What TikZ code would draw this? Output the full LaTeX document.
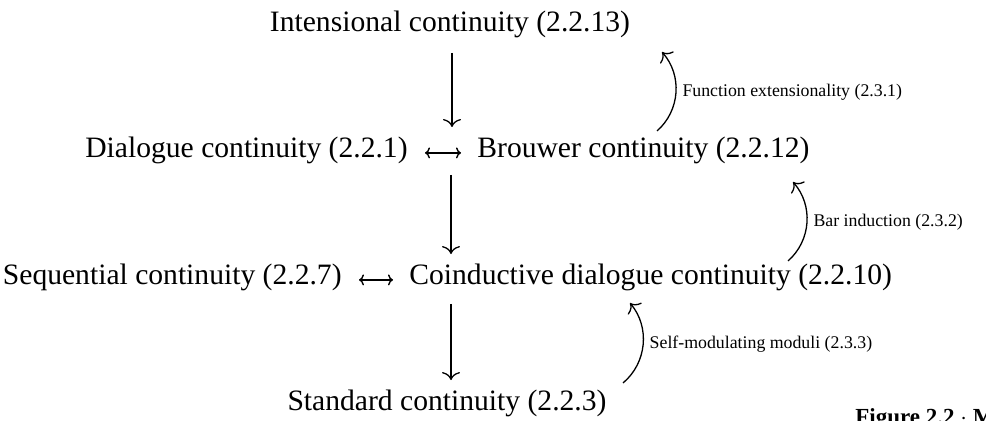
\documentclass[tikz,border=0pt]{standalone}
\usepackage{fontspec}
\setmainfont{Liberation Serif}
\usetikzlibrary{arrows.meta}
\tikzset{
	main/.style={font=\fontsize{14.8}{17}\selectfont, inner sep=0pt},
	lbl/.style={font=\fontsize{8.9}{10}\selectfont, inner sep=3pt},
	impl/.style={-{Computer Modern Rightarrow[length=4pt, width=9pt]}, line width=.65pt},
	equiv/.style={{Computer Modern Rightarrow[length=2.5pt, width=5.5pt]}-{Computer Modern Rightarrow[length=2.5pt, width=5.5pt]}, line width=.7pt},
}
\begin{document}
\begin{tikzpicture}[x=.5pt, y=-.5pt]
		\useasboundingbox (0,0) rectangle (986,421);
		\clip (0,0) rectangle (986,421);
		% the four rows
		\node [main, anchor=base]      (intens)     at (450,32)  {Intensional continuity (2.2.13)};
		\node [main, anchor=base east] (dialogue)   at (408,158) {Dialogue continuity (2.2.1)};
		\node [main, anchor=base west] (brouwer)    at (477,158) {Brouwer continuity (2.2.12)};
		\node [main, anchor=base east] (sequential) at (342,285) {Sequential continuity (2.2.7)};
		\node [main, anchor=base west] (coind)      at (409,285) {Coinductive dialogue continuity (2.2.10)};
		\node [main, anchor=base]      (standard)   at (447,411) {Standard continuity (2.2.3)};
		% ends of the arrows that sit in the gaps
		\coordinate (gap-a) at (452,127);
		\coordinate (gap-b) at (451,175);
		\draw [impl] ([yshift=-7pt]intens.south -| gap-a) -- (gap-a);
		\draw [impl] (gap-b) -- ([yshift=5pt]coind.north -| gap-b);
		\draw [impl] ([yshift=-6pt]coind.south -| gap-b) -- ([yshift=5pt]standard.north -| gap-b);
		\draw [equiv] ([xshift=8.5pt,yshift=-1pt]dialogue.east) -- ([xshift=-8pt,yshift=-1pt]brouwer.west);
		\draw [equiv] ([xshift=8.5pt,yshift=-1pt]sequential.east) -- ([xshift=-8pt,yshift=-1pt]coind.west);
		% the curved arrows
		\coordinate (fe-a) at (657,131);  \coordinate (fe-b) at (662,52);
		\coordinate (bi-a) at (788,261);  \coordinate (bi-b) at (793,182);
		\coordinate (sm-a) at (623,383);  \coordinate (sm-b) at (630,303);
		\draw [impl] (fe-a) to [bend right=45] node [lbl, right] {Function extensionality (2.3.1)} (fe-b);
		\draw [impl] (bi-a) to [bend right=45] node [lbl, right] {Bar induction (2.3.2)} (bi-b);
		\draw [impl] (sm-a) to [bend right=45] node [lbl, right] {Self-modulating moduli (2.3.3)} (sm-b);
		% caption, cut off by the page
		\node [font=\fontsize{11.5}{13}\selectfont\bfseries, anchor=base west, inner sep=0pt] (caption) at (855,425) {Figure 2.2 $\cdot$ M};
	\end{tikzpicture}
\end{document}
